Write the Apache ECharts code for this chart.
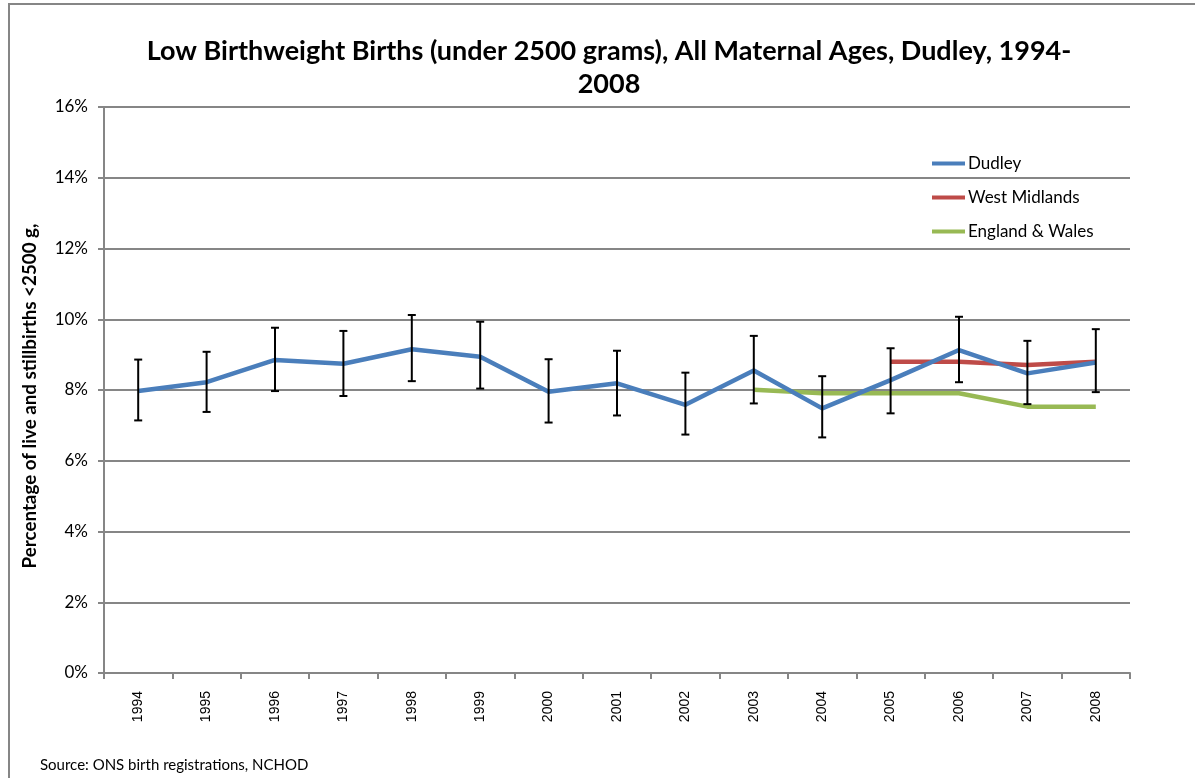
<!DOCTYPE html>
<html>
<head>
<meta charset="utf-8">
<script src="https://cdn.jsdelivr.net/npm/echarts@6/dist/echarts.min.js"></script>
<style>
html,body{margin:0;padding:0;background:#fff;}
#chart{width:1195px;height:778px;}
</style>
</head>
<body>
<div id="chart"></div>
<script>
const years = ['1994','1995','1996','1997','1998','1999','2000','2001','2002','2003','2004','2005','2006','2007','2008'];
const dudley = [7.97, 8.22, 8.85, 8.74, 9.15, 8.94, 7.95, 8.19, 7.58, 8.55, 7.48, 8.28, 9.13, 8.47, 8.78];
const dudleyLow = [7.14, 7.38, 7.97, 7.83, 8.25, 8.04, 7.08, 7.28, 6.74, 7.62, 6.66, 7.34, 8.22, 7.60, 7.94];
const dudleyHigh = [8.86, 9.08, 9.76, 9.67, 10.12, 9.93, 8.87, 9.11, 8.49, 9.53, 8.39, 9.18, 10.07, 9.39, 9.72];
const westMidlands = [null, null, null, null, null, null, null, null, null, null, null, 8.80, 8.80, 8.71, 8.80];
const englandWales = [null, null, null, null, null, null, null, null, null, 8.01, 7.91, 7.91, 7.91, 7.53, 7.53];
const yTicks = [0, 2, 4, 6, 8, 10, 12, 14, 16];

const FONT = 'Lato, "Open Sans", sans-serif';
const XFONT = '"Liberation Sans", Arial, sans-serif';
const chart = echarts.init(document.getElementById('chart'));

const errData = years.map((y, i) => [i, dudleyLow[i], dudleyHigh[i]]);

chart.setOption({
  animation: false,
  backgroundColor: '#fff',
  textStyle: { fontFamily: FONT },
  title: {
    text: 'Low Birthweight Births (under 2500 grams), All Maternal Ages, Dudley, 1994-\n2008',
    left: 604,
    top: 30,
    textAlign: 'center',
    textStyle: { fontFamily: FONT, fontSize: 27, fontWeight: 'bold', color: '#000', lineHeight: 33 }
  },
  legend: {
    orient: 'vertical',
    left: 927,
    top: 150,
    itemGap: 17,
    itemWidth: 33,
    itemHeight: 4,
    icon: 'rect',
    textStyle: { fontFamily: FONT, fontSize: 17, color: '#000', padding: [0, 0, 0, -2] },
    data: ['Dudley', 'West Midlands', 'England & Wales']
  },
  grid: { left: 104, right: 65, top: 107, bottom: 105, containLabel: false },
  xAxis: {
    type: 'category',
    data: years,
    boundaryGap: true,
    axisLine: { lineStyle: { color: '#868686', width: 2 } },
    axisTick: { show: true, length: 6, lineStyle: { color: '#868686', width: 2 } },
    axisLabel: { rotate: 90, fontFamily: XFONT, fontSize: 14, color: '#000', margin: 18 }
  },
  yAxis: {
    type: 'value',
    min: 0, max: 16, interval: 2,
    name: 'Percentage of live and stillbirths <2500 g,',
    nameLocation: 'middle',
    nameGap: 65,
    nameTextStyle: { fontFamily: FONT, fontSize: 18.8, fontWeight: 'bold', color: '#000', padding: [0, 12, 0, 0] },
    axisLine: { show: true, lineStyle: { color: '#868686', width: 2 } },
    axisTick: { show: true, length: 6, lineStyle: { color: '#868686', width: 2 } },
    splitLine: { lineStyle: { color: '#868686', width: 2 } },
    axisLabel: {
      fontFamily: FONT, fontSize: 17, color: '#000', margin: 16,
      formatter: v => yTicks.includes(v) ? v + '%' : ''
    }
  },
  graphic: [
    { type: 'rect', shape: { x: 9, y: 4, width: 1300, height: 900 }, style: { fill: 'none', stroke: '#868686', lineWidth: 2 }, z: -10 },
    { type: 'text', left: 40, top: 758, style: { text: 'Source: ONS birth registrations, NCHOD', font: '15px ' + FONT, fill: '#000' } }
  ],
  series: [
    {
      name: 'Dudley', type: 'line', data: dudley, symbol: 'none',
      lineStyle: { color: '#4A7EBB', width: 4.5 }, itemStyle: { color: '#4A7EBB' }, z: 3
    },
    {
      name: 'West Midlands', type: 'line', data: westMidlands, symbol: 'none',
      lineStyle: { color: '#BE4B48', width: 4.5 }, itemStyle: { color: '#BE4B48' }, z: 2
    },
    {
      name: 'England & Wales', type: 'line', data: englandWales, symbol: 'none',
      lineStyle: { color: '#98B954', width: 4.5 }, itemStyle: { color: '#98B954' }, z: 2
    },
    {
      name: 'error', type: 'custom', data: errData, z: 4,
      renderItem: function (params, api) {
        const x = api.value(0);
        const lo = api.coord([x, api.value(1)]);
        const hi = api.coord([x, api.value(2)]);
        const hw = 4;
        const st = { stroke: '#000', lineWidth: 2 };
        return {
          type: 'group',
          children: [
            { type: 'line', shape: { x1: hi[0], y1: hi[1], x2: lo[0], y2: lo[1] }, style: st },
            { type: 'line', shape: { x1: hi[0] - hw, y1: hi[1], x2: hi[0] + hw, y2: hi[1] }, style: st },
            { type: 'line', shape: { x1: lo[0] - hw, y1: lo[1], x2: lo[0] + hw, y2: lo[1] }, style: st }
          ]
        };
      },
      encode: { x: 0, y: [1, 2] }
    }
  ]
});
</script>
</body>
</html>
